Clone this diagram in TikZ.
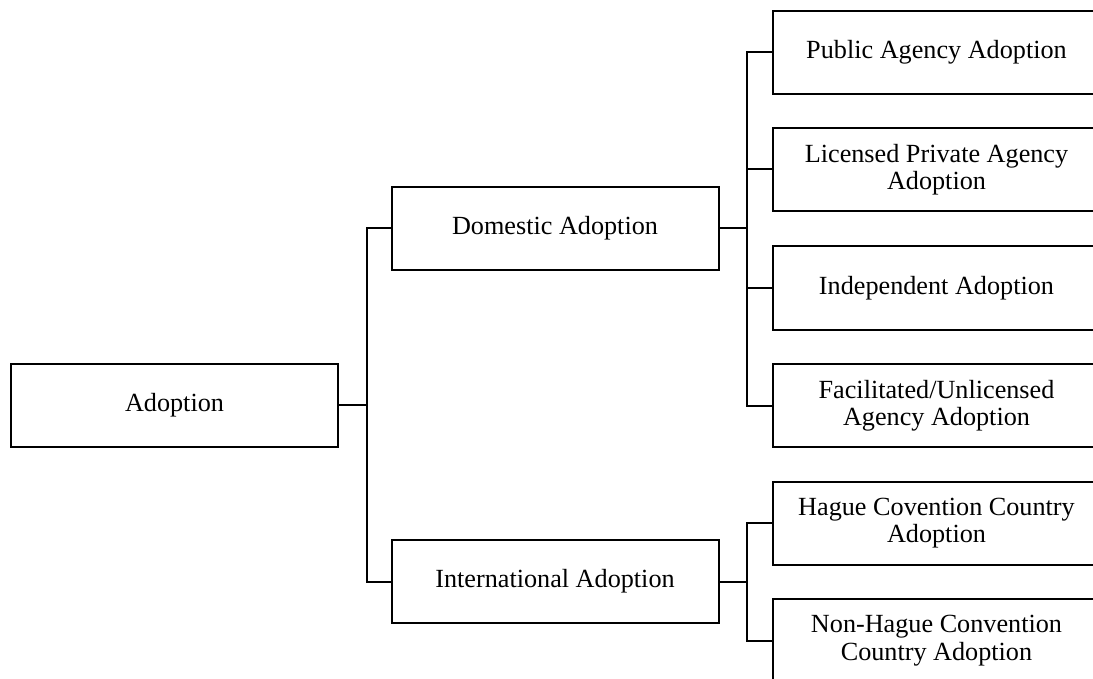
\documentclass[tikz,border=0pt]{standalone}
\usepackage{fontspec}
\setmainfont{Liberation Serif}
\begin{document}
\begin{tikzpicture}[x=1pt,y=-1pt,
  box/.style={draw=black,line width=2pt,minimum width=327pt,minimum height=83pt,
    inner sep=2pt,align=center,font=\fontsize{26.2}{27.5}\selectfont},
  link/.style={draw=black,line width=2pt,line join=miter}]
\useasboundingbox (0,0) rectangle (1093,679);
\clip (0,0) rectangle (1093,679);

% root
\node[box] (adopt) at (174.5,405) {Adoption};

% first level
\node[box] (dom)  at (555,228.5) {Domestic Adoption};
\node[box] (intl) at (555,581.5) {International Adoption};

% second level
\node[box] (pub) at (936.5,52.5)  {Public Agency Adoption};
\node[box] (lic) at (936.5,169.5) {Licensed Private Agency\\Adoption};
\node[box] (ind) at (936.5,288)   {Independent Adoption};
\node[box] (fac) at (936.5,405.5) {Facilitated/Unlicensed\\Agency Adoption};
\node[box] (hag) at (936.5,523)   {Hague Covention Country\\Adoption};
\node[box] (non) at (936.5,640.5) {Non-Hague Convention\\Country Adoption};

% connectors
\draw[link] (adopt.east) -- ++(27.5,0) coordinate (ab);
\draw[link] (ab) |- (dom.west);
\draw[link] (ab) |- (intl.west);

\draw[link] (dom.east) -- ++(27.5,0) coordinate (db);
\draw[link] (db) |- (pub.west);
\draw[link] (db) |- (lic.west);
\draw[link] (db) |- (ind.west);
\draw[link] (db) |- (fac.west);

\draw[link] (intl.east) -- ++(27.5,0) coordinate (ib);
\draw[link] (ib) |- (hag.west);
\draw[link] (ib) |- (non.west);
\end{tikzpicture}
\end{document}
